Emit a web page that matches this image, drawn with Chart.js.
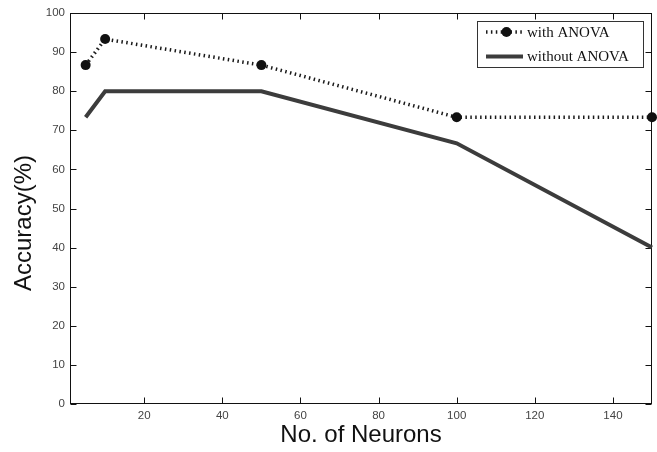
<!DOCTYPE html>
<html><head><meta charset="utf-8">
<script src="https://cdn.jsdelivr.net/npm/chart.js@4/dist/chart.umd.min.js"></script>
<style>html,body{margin:0;padding:0;background:#fff;} #wrap{width:657px;height:452px;}</style>
</head><body><div id="wrap"><canvas id="c" width="657" height="452"></canvas></div>
<script>
const neurons = [5, 10, 50, 100, 150];
const withAnova = [86.67, 93.33, 86.67, 73.33, 73.33];
const withoutAnova = [73.33, 80, 80, 66.67, 40];
const xTickValues = [20, 40, 60, 80, 100, 120, 140];
const yTickValues = [0, 10, 20, 30, 40, 50, 60, 70, 80, 90, 100];
const seriesNames = ['with ANOVA', 'without ANOVA'];
const xTitle = 'No. of Neurons';
const yTitle = 'Accuracy(%)';

const framePlugin = {
  id: 'frame',
  beforeDatasetsDraw(chart) {
    const {ctx, chartArea: a, scales: {x, y}} = chart;
    ctx.save();
    ctx.strokeStyle = '#111';
    ctx.lineWidth = 1;
    const L = Math.round(a.left) + 0.5, R = Math.round(a.right) - 0.5;
    const T = Math.round(a.top) + 0.5, B = Math.round(a.bottom) - 0.5;
    ctx.strokeRect(L, T, R - L, B - T);
    ctx.beginPath();
    x.ticks.forEach(t => {
      const px = Math.round(x.getPixelForValue(t.value)) + 0.5;
      ctx.moveTo(px, B); ctx.lineTo(px, B - 6);
      ctx.moveTo(px, T); ctx.lineTo(px, T + 6);
    });
    y.ticks.forEach(t => {
      const py = Math.round(y.getPixelForValue(t.value)) + 0.5;
      ctx.moveTo(L, py); ctx.lineTo(L + 6, py);
      ctx.moveTo(R, py); ctx.lineTo(R - 6, py);
    });
    ctx.stroke();
    ctx.restore();
  },
  afterDraw(chart) {
    const {ctx} = chart;
    const ds = chart.data.datasets;
    ctx.save();
    // y axis title
    ctx.translate(24, 223);
    ctx.rotate(-Math.PI / 2);
    ctx.font = '24px "Liberation Sans", Arial, sans-serif';
    ctx.fillStyle = '#111';
    ctx.textAlign = 'center';
    ctx.textBaseline = 'middle';
    ctx.fillText(yTitle, 0, 0);
    ctx.restore();

    // legend
    ctx.save();
    ctx.fillStyle = '#fff';
    ctx.fillRect(477.5, 21.5, 166, 46);
    ctx.strokeStyle = '#333';
    ctx.lineWidth = 1;
    ctx.strokeRect(477.5, 21.5, 166, 46);
    const rows = [32, 56.5];
    // row 1
    ctx.strokeStyle = ds[0].borderColor;
    ctx.lineWidth = ds[0].borderWidth;
    ctx.setLineDash(ds[0].borderDash);
    ctx.beginPath(); ctx.moveTo(486, rows[0]); ctx.lineTo(523, rows[0]); ctx.stroke();
    ctx.setLineDash([]);
    ctx.fillStyle = ds[0].pointBackgroundColor;
    ctx.beginPath(); ctx.arc(506.5, rows[0], 5, 0, Math.PI * 2); ctx.fill();
    // row 2
    ctx.strokeStyle = ds[1].borderColor;
    ctx.lineWidth = ds[1].borderWidth;
    ctx.beginPath(); ctx.moveTo(486, rows[1]); ctx.lineTo(523, rows[1]); ctx.stroke();
    ctx.font = '15px "Liberation Serif", "Times New Roman", serif';
    ctx.fillStyle = '#111';
    ctx.textAlign = 'left';
    ctx.textBaseline = 'middle';
    ctx.fillText(ds[0].label, 527, rows[0] + 1);
    ctx.fillText(ds[1].label, 527, rows[1] + 1);
    ctx.restore();
  }
};

const tickFont = {family: '"Liberation Sans", Arial, sans-serif', size: 11.5};

new Chart(document.getElementById('c'), {
  type: 'line',
  data: {
    datasets: [
      {
        label: seriesNames[0],
        data: neurons.map((n, i) => ({x: n, y: withAnova[i]})),
        borderColor: '#1a1a1a',
        borderWidth: 3.5,
        borderDash: [1.5, 3.4],
        pointRadius: 5,
        pointHoverRadius: 5,
        pointBackgroundColor: '#111',
        pointBorderWidth: 0,
        tension: 0,
        clip: false
      },
      {
        label: seriesNames[1],
        data: neurons.map((n, i) => ({x: n, y: withoutAnova[i]})),
        borderColor: '#3c3c3c',
        borderWidth: 4,
        pointRadius: 0,
        tension: 0,
        clip: false
      }
    ]
  },
  options: {
    responsive: false,
    animation: false,
    devicePixelRatio: 1,
    layout: {padding: {top: 13, right: 5, left: 0, bottom: 0}},
    plugins: {legend: {display: false}, tooltip: {enabled: false}},
    scales: {
      x: {
        type: 'linear', min: 1, max: 150,
        afterBuildTicks: s => { s.ticks = xTickValues.map(v => ({value: v})); },
        afterFit: s => { s.height = 48; },
        grid: {display: false, drawTicks: false},
        border: {display: false},
        ticks: {font: tickFont, color: '#444', padding: 5, maxRotation: 0, autoSkip: false},
        title: {display: true, text: xTitle, color: '#111',
                font: {family: '"Liberation Sans", Arial, sans-serif', size: 24},
                padding: {top: 0, bottom: 2}}
      },
      y: {
        type: 'linear', min: 0, max: 100,
        afterBuildTicks: s => { s.ticks = yTickValues.map(v => ({value: v})); },
        afterFit: s => { s.width = 70; },
        grid: {display: false, drawTicks: false},
        border: {display: false},
        ticks: {font: tickFont, color: '#444', padding: 5, autoSkip: false}
      }
    }
  },
  plugins: [framePlugin]
});
</script>
</body></html>
